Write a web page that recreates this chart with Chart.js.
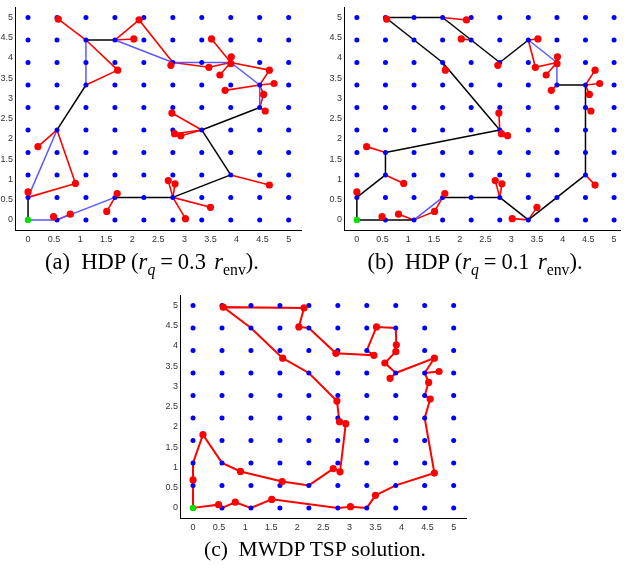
<!DOCTYPE html>
<html>
<head>
<meta charset="utf-8">
<script src="https://cdn.jsdelivr.net/npm/chart.js@4.4.0/dist/chart.umd.min.js"></script>
<style>
  html, body { margin: 0; padding: 0; background: #fff; overflow: hidden; }
  body { width: 624px; height: 568px; position: relative; }
  canvas { position: absolute; }
  .cap {
    position: absolute;
    font-family: "Liberation Serif", "Times New Roman", serif;
    font-size: 21.5px;
    color: #000;
    white-space: nowrap;
    transform: translateX(-50%);
    line-height: 24px;
  }
  .cap.math { font-size: 22.5px; }
  .cap sub { font-size: 70%; vertical-align: -0.35em; line-height: 0; }
  .cap .eq { margin: 0 0.22em; }
  .cap .sp { margin-left: 0.12em; }
</style>
</head>
<body>
<canvas id="chartA" width="310" height="250" style="left:0;top:0"></canvas>
<canvas id="chartB" width="295" height="250" style="left:329px;top:0"></canvas>
<canvas id="chartC" width="310" height="250" style="left:165px;top:288px"></canvas>
<div class="cap math" style="left:152px;top:250px">(a)&nbsp; HDP (<i>r<sub>q</sub></i><span class="eq">=</span>0.3<span class="sp"></span> <i>r</i><sub>env</sub>).</div>
<div class="cap math" style="left:475px;top:250px">(b)&nbsp; HDP (<i>r<sub>q</sub></i><span class="eq">=</span>0.1<span class="sp"></span> <i>r</i><sub>env</sub>).</div>
<div class="cap" style="left:315px;top:537px">(c)&nbsp; MWDP TSP solution.</div>
<script>
// grid de nodos (azul) y ticks de los ejes
const gridVals = [0, 0.556, 1.111, 1.667, 2.222, 2.778, 3.333, 3.889, 4.444, 5];
const tickVals = [0, 0.5, 1, 1.5, 2, 2.5, 3, 3.5, 4, 4.5, 5];

// puntos objetivo (rojo)
const targetX = [0.58, 2.13, 2.03, 1.72, 3.52, 3.90, 3.89, 3.47, 3.68, 2.74,
                 4.63, 4.72, 3.78, 4.52, 4.55, 2.76, 2.81, 2.93, 0.19, 0.91,
                 0.00, 4.63, 2.69, 2.82, 1.71, 1.51, 3.50, 3.02, 0.49, 0.81];
const targetY = [4.96, 4.94, 4.47, 3.70, 4.47, 4.03, 3.86, 3.77, 3.58, 3.82,
                 3.70, 3.37, 3.20, 3.10, 2.69, 2.64, 2.13, 2.08, 1.81, 0.90,
                 0.69, 0.86, 0.97, 0.89, 0.65, 0.21, 0.31, 0.03, 0.08, 0.14];

// (a) recorrido de hubs, r_q = 0.3
const tourA = [[0, 0], [0.556, 0], [1.667, 0.556], [2.778, 0.556], [3.889, 1.111],
               [3.333, 2.222], [4.444, 2.778], [4.444, 3.333], [3.889, 3.889],
               [2.778, 3.889], [1.667, 4.444], [1.111, 4.444], [1.111, 3.333],
               [0.556, 2.222], [0, 0.556], [0, 0]];
const edgeColorsA = ['b', 'b', 'k', 'k', 'k', 'k', 'b', 'b', 'b', 'b', 'k', 'b', 'k', 'b', 'k'];
const spokesA = [
  [[1.111, 4.444], [0.58, 4.96]],
  [[1.111, 4.444], [1.72, 3.70], [1.111, 3.333]],
  [[1.667, 4.444], [2.03, 4.47]],
  [[1.667, 4.444], [2.13, 4.94], [2.778, 3.889]],
  [[2.778, 3.889], [2.74, 3.82]],
  [[2.778, 3.889], [3.47, 3.77], [3.889, 3.889]],
  [[3.889, 3.889], [3.52, 4.47]],
  [[3.889, 3.889], [3.90, 4.03]],
  [[3.889, 3.889], [3.89, 3.86]],
  [[3.889, 3.889], [3.68, 3.58]],
  [[3.889, 3.889], [4.63, 3.70], [4.444, 3.333]],
  [[4.444, 3.333], [3.78, 3.20]],
  [[4.444, 3.333], [4.72, 3.37]],
  [[4.444, 3.333], [4.52, 3.10], [4.444, 2.778], [4.55, 2.69]],
  [[3.333, 2.222], [2.76, 2.64]],
  [[3.333, 2.222], [2.81, 2.13]],
  [[3.333, 2.222], [2.93, 2.08]],
  [[3.889, 1.111], [4.63, 0.86]],
  [[2.778, 0.556], [2.69, 0.97]],
  [[2.778, 0.556], [2.82, 0.89]],
  [[2.778, 0.556], [3.50, 0.31]],
  [[2.778, 0.556], [3.02, 0.03]],
  [[1.667, 0.556], [1.71, 0.65]],
  [[1.667, 0.556], [1.51, 0.21]],
  [[0.556, 0], [0.49, 0.08]],
  [[0.556, 0], [0.81, 0.14]],
  [[0, 0.556], [0, 0.69]],
  [[0.556, 2.222], [0.19, 1.81]],
  [[0.556, 2.222], [0.91, 0.90], [0, 0.556]]
];

// (b) recorrido de hubs, r_q = 0.1
const tourB = [[0, 0], [0, 0.556], [0.556, 1.111], [0.556, 1.667], [2.778, 2.222],
               [1.667, 3.889], [0.556, 5], [1.667, 5], [2.778, 3.889], [3.333, 4.444],
               [3.889, 3.889], [3.889, 3.333], [4.444, 3.333], [4.444, 1.111],
               [3.333, 0], [2.778, 0.556], [1.667, 0.556], [1.111, 0], [0, 0]];
const edgeColorsB = ['k', 'k', 'k', 'k', 'k', 'k', 'k', 'k', 'k', 'b', 'b', 'k', 'k', 'k', 'k', 'k', 'b', 'k'];
const spokesB = [
  [[0.556, 5], [0.58, 4.96]],
  [[1.667, 5], [2.13, 4.94]],
  [[2.222, 4.444], [2.03, 4.47]],
  [[1.667, 3.889], [1.72, 3.70]],
  [[2.778, 3.889], [2.74, 3.82]],
  [[3.333, 4.444], [3.52, 4.47]],
  [[3.333, 4.444], [3.47, 3.77], [3.889, 3.889]],
  [[3.889, 3.889], [3.90, 4.03]],
  [[3.889, 3.889], [3.89, 3.86]],
  [[3.889, 3.889], [3.68, 3.58]],
  [[3.889, 3.333], [3.78, 3.20]],
  [[4.444, 3.333], [4.63, 3.70]],
  [[4.444, 3.333], [4.72, 3.37]],
  [[4.444, 3.333], [4.52, 3.10]],
  [[4.444, 2.778], [4.55, 2.69]],
  [[2.778, 2.222], [2.76, 2.64]],
  [[2.778, 2.222], [2.81, 2.13]],
  [[2.778, 2.222], [2.93, 2.08]],
  [[0.556, 1.667], [0.19, 1.81]],
  [[0.556, 1.111], [0.91, 0.90]],
  [[0, 0.556], [0, 0.69]],
  [[4.444, 1.111], [4.63, 0.86]],
  [[2.778, 0.556], [2.69, 0.97]],
  [[2.778, 0.556], [2.82, 0.89]],
  [[3.333, 0], [3.50, 0.31]],
  [[3.333, 0], [3.02, 0.03]],
  [[1.667, 0.556], [1.71, 0.65], [1.51, 0.21], [1.111, 0]],
  [[1.111, 0], [0.81, 0.14]],
  [[0.556, 0], [0.49, 0.08]]
];

// (c) solución TSP
const tourC = [[0, 0], [0.49, 0.08], [0.556, 0], [0.81, 0.14], [1.111, 0], [1.51, 0.21],
               [2.778, 0], [3.02, 0.03], [3.333, 0], [3.50, 0.31], [3.889, 0.556], [4.63, 0.86],
               [4.444, 2.222], [4.55, 2.69], [4.444, 2.778], [4.52, 3.10], [4.444, 3.333],
               [4.72, 3.37], [4.444, 3.333], [4.63, 3.70], [3.889, 3.333], [3.78, 3.20],
               [3.889, 3.333], [3.68, 3.58], [3.89, 3.86], [3.90, 4.03], [3.889, 4.444],
               [3.52, 4.47], [3.333, 3.889], [3.47, 3.77], [2.74, 3.82], [2.222, 4.444],
               [2.03, 4.47], [2.13, 4.94], [0.58, 4.96], [1.111, 4.444], [1.72, 3.70],
               [2.222, 3.333], [2.76, 2.64], [2.81, 2.13], [2.93, 2.08], [2.82, 0.89],
               [2.69, 0.97], [2.222, 0.556], [1.71, 0.65], [0.91, 0.90], [0.556, 1.111],
               [0.19, 1.81], [0, 1.111], [0, 0.69], [0, 0]];

const startPoint = [0, 0];

const RED = '#ff0000';
const BLUE_LINE = '#5959ff';
const colorMap = { b: BLUE_LINE, k: '#000000' };

const toXY = list => list.map(p => ({ x: p[0], y: p[1] }));

function lineDataset(points, color, width, order) {
  return {
    data: toXY(points),
    showLine: true,
    borderColor: color,
    borderWidth: width,
    pointRadius: 0,
    fill: false,
    tension: 0,
    order: order
  };
}

function commonDatasets() {
  const grid = [];
  gridVals.forEach(gx => gridVals.forEach(gy => grid.push([gx, gy])));
  const targets = targetX.map((x, i) => [x, targetY[i]]);
  return [
    { data: toXY([startPoint]), pointRadius: 3.2, pointBackgroundColor: '#00e000', pointBorderWidth: 0, order: 0 },
    { data: toXY(targets), pointRadius: 3.6, pointBackgroundColor: RED, pointBorderWidth: 0, order: 1 },
    { data: toXY(grid), pointRadius: 2.5, pointBackgroundColor: '#0000ff', pointBorderWidth: 0, order: 2 }
  ];
}

function hubDatasets(tour, colors, spokes) {
  const ds = [];
  spokes.forEach(s => ds.push(lineDataset(s, RED, 1.6, 4)));
  for (let i = 0; i < tour.length - 1; i++) {
    ds.push(lineDataset([tour[i], tour[i + 1]], colorMap[colors[i]], 1.5, 3));
  }
  return ds;
}

function makeChart(id, datasets, xMax, padRight) {
  const axis = (max, isX) => ({
    type: 'linear',
    min: -0.25,
    max: max,
    grid: { display: false, drawTicks: false },
    border: { display: true, color: '#000', width: 1 },
    afterBuildTicks: a => { a.ticks = tickVals.map(v => ({ value: v })); },
    afterFit: a => { if (isX) a.height = 20; else a.width = 15; },
    ticks: {
      font: { family: 'Liberation Sans', size: 9 },
      color: '#333',
      padding: isX ? 4 : 2,
      autoSkip: false,
      maxRotation: 0,
      callback: v => String(v)
    }
  });
  return new Chart(document.getElementById(id), {
    type: 'scatter',
    data: { datasets: datasets },
    options: {
      responsive: false,
      animation: false,
      layout: { padding: { top: 4, right: padRight, left: 0, bottom: 0 } },
      plugins: { legend: { display: false }, tooltip: { enabled: false } },
      scales: { x: axis(xMax, true), y: axis(5.25, false) }
    }
  });
}

makeChart('chartA', commonDatasets().concat(hubDatasets(tourA, edgeColorsA, spokesA)), 5.25, 8.3);
makeChart('chartB', commonDatasets().concat(hubDatasets(tourB, edgeColorsB, spokesB)), 5.115, 0);
makeChart('chartC', commonDatasets().concat([lineDataset(tourC, RED, 2, 3)]), 5.25, 8.3);
</script>
</body>
</html>
